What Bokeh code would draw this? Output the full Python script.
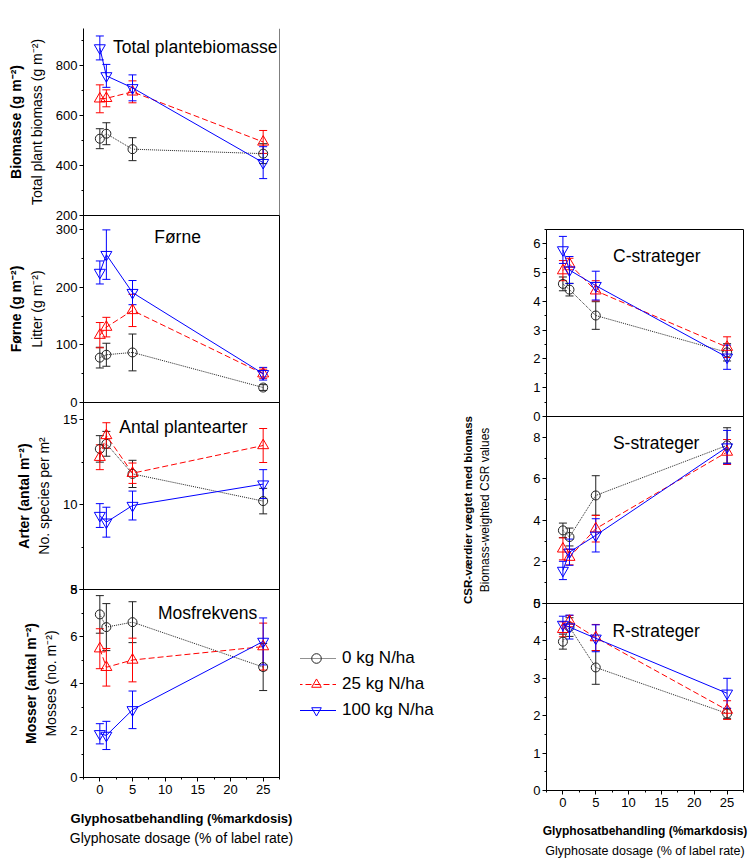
from bokeh.plotting import figure
from bokeh.models import (ColumnDataSource, Whisker, TeeHead, Label, Legend, LegendItem,
                          LinearAxis, SingleIntervalTicker, FixedTicker, Range1d, Span)
from bokeh.layouts import column, row
from bokeh.embed import file_html
from bokeh.resources import INLINE

# Glyphosate dose (% of label rate)
dose = [0, 1, 5, 25]
treatments = ["0 kg N/ha", "25 kg N/ha", "100 kg N/ha"]

# Total plant biomass (g m-2): means and standard errors
biomass_0 = [508, 528, 466, 448]
biomass_0_se = [40, 44, 46, 40]
biomass_25 = [668, 670, 696, 495]
biomass_25_se = [56, 34, 44, 46]
biomass_100 = [872, 760, 712, 412]
biomass_100_se = [48, 46, 52, 64]

# Litter (g m-2)
litter_0 = [78, 83, 87, 26]
litter_0_se = [18, 20, 32, 5]
litter_25 = [117, 131, 160, 50]
litter_25_se = [22, 17, 28, 8]
litter_100 = [226, 257, 191, 50]
litter_100_se = [20, 43, 21, 11]

# Number of plant species per m2
species_0 = [13.27, 13.57, 11.8, 10.2]
species_0_se = [0.78, 0.73, 0.8, 0.75]
species_25 = [12.78, 14.06, 11.84, 13.47]
species_25_se = [0.73, 0.75, 0.6, 1.0]
species_100 = [9.35, 8.96, 9.94, 11.2]
species_100_se = [0.7, 0.88, 0.85, 0.85]

# Moss frequency (no. m-2)
moss_0 = [6.94, 6.4, 6.61, 4.7]
moss_0_se = [0.8, 1.0, 0.87, 1.0]
moss_25 = [5.48, 4.69, 5.0, 5.57]
moss_25_se = [0.85, 0.8, 0.93, 1.0]
moss_100 = [1.86, 1.79, 2.88, 5.79]
moss_100_se = [0.43, 0.6, 0.8, 1.0]

# Biomass-weighted CSR values
c_0 = [4.61, 4.41, 3.51, 2.23]
c_0_se = [0.24, 0.22, 0.48, 0.3]
c_25 = [5.07, 5.3, 4.37, 2.41]
c_25_se = [0.35, 0.2, 0.35, 0.36]
c_100 = [5.79, 5.09, 4.55, 2.06]
c_100_se = [0.47, 0.47, 0.5, 0.42]

s_0 = [3.52, 3.2, 5.2, 7.61]
s_0_se = [0.35, 0.43, 0.95, 0.85]
s_25 = [2.63, 2.23, 3.6, 7.29]
s_25_se = [0.53, 0.37, 0.64, 0.6]
s_100 = [1.59, 2.47, 3.28, 7.53]
s_100_se = [0.44, 0.63, 0.8, 0.8]

r_0 = [3.98, 4.37, 3.29, 2.06]
r_0_se = [0.2, 0.25, 0.45, 0.13]
r_25 = [4.31, 4.53, 4.09, 2.15]
r_25_se = [0.2, 0.15, 0.35, 0.25]
r_100 = [4.44, 4.37, 4.07, 2.6]
r_100_se = [0.22, 0.32, 0.36, 0.4]

FONT = "Liberation Sans"
PAD = 12  # transparent strip above/below each stacked panel, overlapped by its neighbour
STYLES = [
    dict(color="#222222", dash="1 1", marker="circle", size=9),
    dict(color="red", dash="6 3", marker="triangle", size=11),
    dict(color="blue", dash="solid", marker="inverted_triangle", size=11),
]


def make_panel(frame_w, frame_h, y0, y1, step, b_left, b_right, b_top, b_bottom, show_x,
               overlap_top, x_sizes=("13px", "14px"), x_gaps=(12, 2)):
    p = figure(frame_width=frame_w, frame_height=frame_h,
               x_range=Range1d(-2.5, 27.5), y_range=Range1d(y0, y1),
               min_border_left=b_left, min_border_right=b_right,
               min_border_top=b_top, min_border_bottom=b_bottom,
               x_axis_location="below" if show_x else None,
               margin=(-2 * PAD if overlap_top else 0, 0, 0, 0),
               output_backend="svg", toolbar_location=None)
    p.xgrid.visible = False
    p.ygrid.visible = False
    p.outline_line_color = "black"
    p.outline_line_width = 1
    p.background_fill_color = None
    p.border_fill_color = None
    ax = p.yaxis[0]
    ax.ticker = SingleIntervalTicker(interval=step, num_minor_ticks=2)
    ax.major_tick_out = 4
    ax.major_tick_in = 0
    ax.minor_tick_out = 2
    ax.minor_tick_in = 0
    ax.major_label_standoff = 2
    ax.major_label_text_font = FONT
    ax.major_label_text_font_size = "13px"
    ax.major_label_text_color = "black"
    ax.axis_line_color = "black"
    ax.major_tick_line_color = "black"
    ax.minor_tick_line_color = "black"
    if show_x:
        xa = p.xaxis[0]
        xa.ticker = SingleIntervalTicker(interval=5, num_minor_ticks=2)
        xa.major_tick_out = 4
        xa.major_tick_in = 0
        xa.minor_tick_out = 2
        xa.minor_tick_in = 0
        xa.major_label_standoff = 3
        xa.major_label_text_font = FONT
        xa.major_label_text_font_size = "13px"
        xa.major_label_text_color = "black"
        xa.axis_line_color = "black"
        xa.axis_label = "Glyphosatbehandling (%markdosis)"
        xa.axis_label_text_font = FONT
        xa.axis_label_text_font_style = "bold"
        xa.axis_label_text_font_size = x_sizes[0]
        xa.axis_label_text_color = "black"
        xa.axis_label_standoff = x_gaps[0]
        outer = LinearAxis(ticker=FixedTicker(ticks=[]), axis_line_color=None,
                           major_tick_line_color=None, minor_tick_line_color=None,
                           major_label_standoff=0,
                           axis_label="Glyphosate dosage (% of label rate)",
                           axis_label_text_font=FONT, axis_label_text_font_size=x_sizes[1],
                           axis_label_text_font_style="normal", axis_label_text_color="black",
                           axis_label_standoff=x_gaps[1])
        p.add_layout(outer, "below")
    return p


def y_titles(p, bold_text, normal_text, standoff, bold_size="14px", normal_size="14px"):
    ax = p.yaxis[0]
    ax.axis_label = normal_text
    ax.axis_label_text_font = FONT
    ax.axis_label_text_font_size = normal_size
    ax.axis_label_text_font_style = "normal"
    ax.axis_label_text_color = "black"
    ax.axis_label_standoff = standoff
    outer = LinearAxis(ticker=FixedTicker(ticks=[]), axis_line_color=None,
                       major_tick_line_color=None, minor_tick_line_color=None,
                       major_label_standoff=0, axis_label=bold_text,
                       axis_label_text_font=FONT, axis_label_text_font_size=bold_size,
                       axis_label_text_font_style="bold", axis_label_text_color="black",
                       axis_label_standoff=2)
    p.add_layout(outer, "left")


def draw(p, series):
    for (means, errs), st in zip(series, STYLES):
        src = ColumnDataSource(dict(x=dose, y=means,
                                    lo=[m - e for m, e in zip(means, errs)],
                                    hi=[m + e for m, e in zip(means, errs)]))
        p.add_layout(Whisker(source=src, base="x", lower="lo", upper="hi",
                             line_color=st["color"], line_width=1,
                             upper_head=TeeHead(size=8, line_color=st["color"], line_width=1),
                             lower_head=TeeHead(size=8, line_color=st["color"], line_width=1)))
        p.line("x", "y", source=src, line_color=st["color"], line_dash=st["dash"], line_width=1)
        p.scatter("x", "y", source=src, marker=st["marker"], size=st["size"],
                  fill_color=None, line_color=st["color"], line_width=1)


def title(p, text, x, y):
    p.add_layout(Label(x=x, y=y, text=text, text_align="center", text_baseline="middle",
                       text_font=FONT, text_font_size="17.5px", text_color="black"))


# Left column: four stacked panels sharing the dose axis
p1 = make_panel(196, 187, 200, 950, 200, 83, 21, 28, PAD, False, False)
p1.outline_line_color = None
p1.add_layout(Span(location=27.5, dimension="height", line_color="black", line_width=1))
draw(p1, [(biomass_0, biomass_0_se), (biomass_25, biomass_25_se), (biomass_100, biomass_100_se)])
title(p1, "Total plantebiomasse", 14.6, 876)
y_titles(p1, "Biomasse (g m\u207b\u00b2)", "Total plant biomass (g m\u207b\u00b2)", 8)

p2 = make_panel(196, 187, 0, 325, 100, 83, 21, PAD, PAD, False, True)
draw(p2, [(litter_0, litter_0_se), (litter_25, litter_25_se), (litter_100, litter_100_se)])
title(p2, "Førne", 11.9, 288)
y_titles(p2, "Førne (g m\u207b\u00b2)", "Litter (g m\u207b\u00b2)", 8)

p3 = make_panel(196, 187, 5, 16, 5, 83, 21, PAD, PAD, False, True)
draw(p3, [(species_0, species_0_se), (species_25, species_25_se), (species_100, species_100_se)])
title(p3, "Antal plantearter", 12.8, 14.53)
y_titles(p3, "Arter (antal m\u207b\u00b2)", "No. species per m\u00b2", 8)

p4 = make_panel(196, 188, 0, 8, 2, 83, 21, PAD, 84, True, True, ("13px", "14px"), (14, 1))
draw(p4, [(moss_0, moss_0_se), (moss_25, moss_25_se), (moss_100, moss_100_se)])
title(p4, "Mosfrekvens", 16.5, 7.02)
y_titles(p4, "Mosser (antal m\u207b\u00b2)", "Mosses (no. m\u207b\u00b2)", 8)

# Middle strip holding the shared legend for the three N levels; its hidden
# renderers only supply the legend swatches
key = figure(frame_width=150, frame_height=861, x_range=Range1d(-2.5, 27.5),
             y_range=Range1d(0, 8), x_axis_location=None, y_axis_location=None, min_border=0,
             output_backend="svg", toolbar_location=None)
key.xgrid.visible = False
key.ygrid.visible = False
key.outline_line_color = None
key.background_fill_color = None
key.border_fill_color = None
items = []
for name, means, st in zip(treatments, [moss_0, moss_25, moss_100], STYLES):
    src = ColumnDataSource(dict(x=dose, y=means))
    ln = key.line("x", "y", source=src, line_color=st["color"], line_dash=st["dash"],
                  line_width=1, visible=False)
    sc = key.scatter("x", "y", source=src, marker=st["marker"], size=st["size"],
                     fill_color=None, line_color=st["color"], line_width=1, visible=False)
    items.append(LegendItem(label=name, renderers=[ln, sc]))
key.add_layout(Legend(items=items, location=(-4, 139), orientation="vertical",
                      glyph_width=40, glyph_height=24, label_height=24, spacing=2,
                      padding=0, margin=0, label_standoff=6,
                      label_text_font=FONT, label_text_font_size="17px",
                      label_text_color="black",
                      border_line_color=None, background_fill_alpha=0))

# Right column: C, S and R strategy scores
pc = make_panel(197, 187, 0, 6.5, 1, 96, 7, 229, PAD, False, False)
draw(pc, [(c_0, c_0_se), (c_25, c_25_se), (c_100, c_100_se)])
title(pc, "C-strateger", 14.3, 5.59)

ps = make_panel(197, 187, 0, 9, 2, 96, 7, PAD, PAD, False, True)
draw(ps, [(s_0, s_0_se), (s_25, s_25_se), (s_100, s_100_se)])
title(ps, "S-strateger", 14.2, 7.71)
y_titles(ps, "CSR-værdier vægtet med biomass", "Biomass-weighted CSR values", 38,
         bold_size="11.5px", normal_size="12px")

pr = make_panel(197, 187, 0, 5, 1, 96, 7, PAD, 71, True, True, ("12px", "12.5px"), (14, 3))
draw(pr, [(r_0, r_0_se), (r_25, r_25_se), (r_100, r_100_se)])
title(pr, "R-strateger", 14.2, 4.27)

layout = row(column(p1, p2, p3, p4, spacing=0), key,
             column(pc, ps, pr, spacing=0), spacing=0)

with open("out.html", "w") as f:
    f.write(file_html(layout, INLINE))
